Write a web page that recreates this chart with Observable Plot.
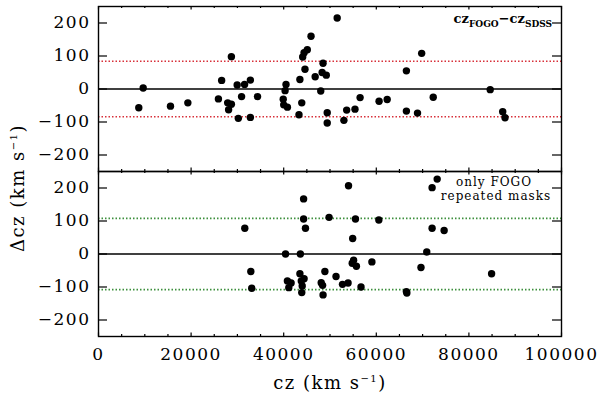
<!DOCTYPE html>
<html><head><meta charset="utf-8">
<script src="https://cdn.jsdelivr.net/npm/d3@7"></script>
<script src="https://cdn.jsdelivr.net/npm/@observablehq/plot@0.6"></script>
<style>
body{margin:0;background:#fff}
#chart{position:relative;width:600px;height:399px;overflow:hidden;background:#fff}
#chart svg{position:absolute;left:0;background:transparent;overflow:visible}
</style></head><body><div id="chart"></div>
<script>
// top panel: cz_FOGO - cz_SDSS
const topCz = [8700,9650,15550,19300,25900,26600,27900,28700,28100,28700,29950,30200,30900,31550,32800,32800,34350,40500,40300,39900,40000,40800,43500,43900,43300,44100,44400,45100,44600,45900,46800,48500,48300,49200,48000,49400,49400,51550,53000,53600,55400,56500,60600,62350,66500,66500,68900,69800,72300,84600,87300,87800];
const topDcz = [-57,3,-52,-42,-30,26,-42,-46,-63,98,12,-89,-23,14,27,-86,-23,14,-5,-31,-48,-55,29,-42,-78,97,110,119,60,160,37,78,50,42,-6,-72,-103,215,-95,-64,-61,-26,-37,-32,55,-67,-73,108,-25,-2,-69,-87];
// bottom panel: only FOGO repeated masks
const botCz = [31600,32900,33100,40400,40800,41600,41100,43600,43500,44400,43800,44000,43900,44300,44300,44700,48100,48400,48500,48900,49800,51300,52700,53900,54000,54900,55500,55100,54800,55700,56700,59050,60550,66500,66600,69650,70900,72050,72050,73150,74650,84900];
const botDcz = [78,-53,-104,0,-82,-88,-102,0,-60,-75,-82,-97,-117,167,106,78,-87,-95,-124,-53,111,-68,-92,-88,207,47,106,-19,-28,-37,-100,-24,103,-114,-118,-41,6,78,201,227,71,-60];
const topLimits = [-84, 84];
const botLimits = [-108, 108];
const xTickLabels = [0,20000,40000,60000,80000,100000];
const xMinorTicks = [5000,10000,15000,25000,30000,35000,45000,50000,55000,65000,70000,75000,85000,90000,95000];
const yTickLabels = [-200,-100,0,100,200];

const W = 600, ML = 98, MR = 39;
const frameW = W - ML - MR;

function panel({cz, dcz, limits, limitColor, top, height, marginTop, marginBottom, showX}) {
  const pts = cz.map((c, i) => ({cz: c, dcz: dcz[i]}));
  const frameH = height - marginTop - marginBottom;
  const svg = Plot.plot({
    width: W, height, marginLeft: ML, marginRight: MR, marginTop, marginBottom,
    style: {fontFamily: "DejaVu Serif", fontSize: "17px", color: "black", background: "transparent", overflow: "visible", letterSpacing: "1.5px"},
    x: showX ? {domain: [0, 100000], ticks: xTickLabels, tickSize: 0, tickPadding: 11, tickFormat: d3.format("d"), label: null}
             : {domain: [0, 100000], axis: null},
    y: {domain: [-250, 250], ticks: yTickLabels, tickSize: 0, tickPadding: 8, label: null},
    marks: [
      Plot.ruleY(limits, {stroke: limitColor, strokeWidth: 1.6, strokeDasharray: "1.5,2"}),
      Plot.ruleY([0], {stroke: "black", strokeWidth: 1.4}),
      Plot.dot(pts, {x: "cz", y: "dcz", r: 3.7, fill: "black"}),
      Plot.tickY(yTickLabels, {y: d => d, insetRight: frameW - 9, stroke: "black", strokeWidth: 1.2}),
      Plot.tickY(yTickLabels, {y: d => d, insetLeft: frameW - 9, stroke: "black", strokeWidth: 1.2}),
      Plot.tickX(xTickLabels, {x: d => d, insetTop: frameH - 3.5, stroke: "black", strokeWidth: 1.2}),
      Plot.tickX(xTickLabels, {x: d => d, insetBottom: frameH - 3.5, stroke: "black", strokeWidth: 1.2}),
      Plot.tickX(xMinorTicks, {x: d => d, insetTop: frameH - 2, stroke: "black", strokeWidth: 1.2}),
      Plot.tickX(xMinorTicks, {x: d => d, insetBottom: frameH - 2, stroke: "black", strokeWidth: 1.2}),
      Plot.frame({stroke: "black", strokeWidth: 1.4})
    ]
  });
  svg.style.top = top + "px";
  return svg;
}

const chart = document.getElementById("chart");
chart.appendChild(panel({cz: topCz, dcz: topDcz, limits: topLimits, limitColor: "#d8303a", top: 0, height: 171, marginTop: 6, marginBottom: 0, showX: false}));
chart.appendChild(panel({cz: botCz, dcz: botDcz, limits: botLimits, limitColor: "#3d8f3d", top: 171, height: 228, marginTop: 0, marginBottom: 63, showX: true}));

// overlay labels
const ov = d3.select(chart).append("svg")
  .attr("width", 600).attr("height", 399)
  .style("top", "0px").style("pointer-events", "none")
  .style("font-family", "DejaVu Serif").style("fill", "black");

function unitLabel(g, prefix) {
  g.append("tspan").text(prefix + " (km s");
  g.append("tspan").attr("font-size", "10px").attr("dy", -7).text("−1");
  g.append("tspan").attr("dy", 7).text(")");
}
const xl = ov.append("text").attr("x", 330).attr("y", 389).attr("text-anchor", "middle")
  .attr("font-size", "18px").attr("letter-spacing", "1.5px");
unitLabel(xl, "cz");
const yl = ov.append("text").attr("transform", "translate(24,188) rotate(-90)").attr("text-anchor", "middle")
  .attr("font-size", "18px").attr("letter-spacing", "1.5px");
unitLabel(yl, "Δcz");

const ann = ov.append("text").attr("x", 552).attr("y", 23).attr("text-anchor", "end")
  .attr("font-size", "13px").attr("font-weight", "bold");
ann.append("tspan").text("cz");
ann.append("tspan").attr("font-size", "9px").attr("dy", 4).text("FOGO");
ann.append("tspan").attr("dy", -4).text("−cz");
ann.append("tspan").attr("font-size", "9px").attr("dy", 4).text("SDSS");

ov.append("text").attr("x", 494).attr("y", 186).attr("text-anchor", "middle")
  .attr("font-size", "12px").attr("letter-spacing", "1px").text("only FOGO");
ov.append("text").attr("x", 496).attr("y", 199.5).attr("text-anchor", "middle")
  .attr("font-size", "12px").attr("letter-spacing", "1px").text("repeated masks");
</script></body></html>
